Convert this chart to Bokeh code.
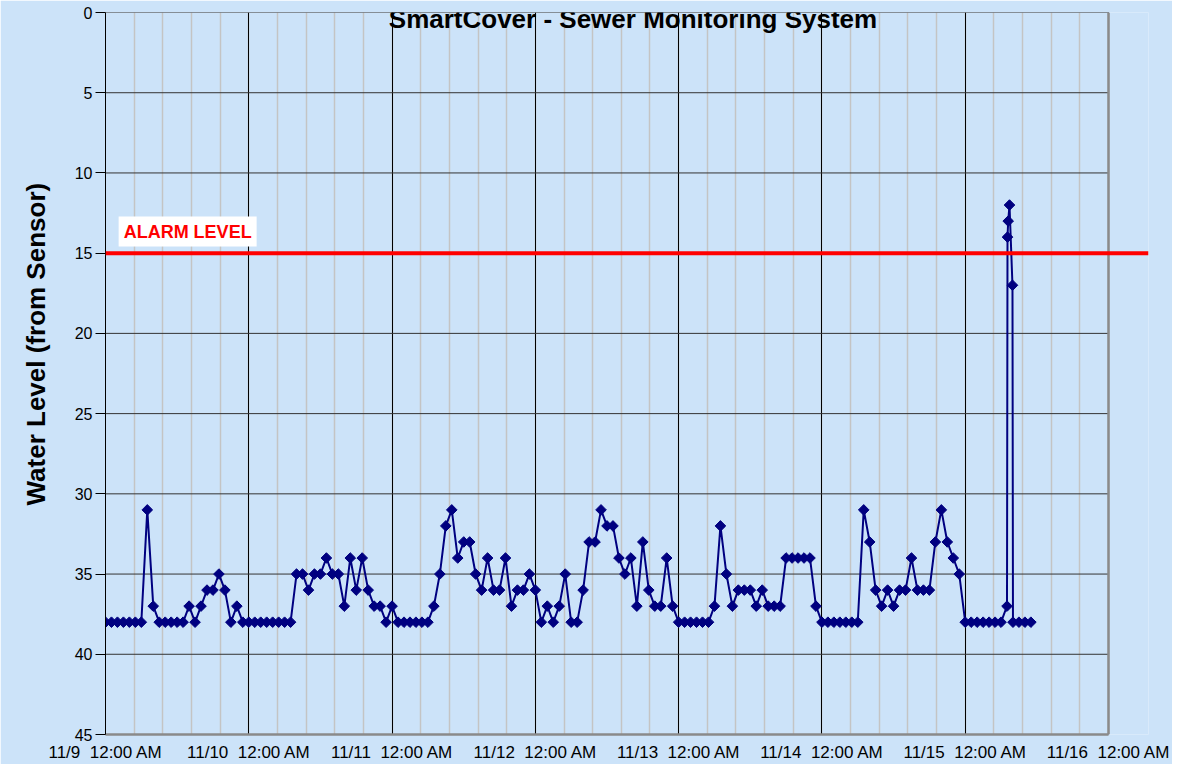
import math
import pandas as pd
from bokeh.plotting import figure
from bokeh.models import Range1d, FixedTicker, Span, Label, Title, ColumnDataSource
from bokeh.embed import file_html
from bokeh.resources import INLINE

# ---------------- data ----------------
title_text = "SmartCover - Sewer Monitoring System"
y_title = "Water Level (from Sensor)"
alarm_text = "ALARM LEVEL"
alarm_level = 15

start_time = "2008-11-09 00:00"
# hourly sensor readings starting 11/9 12:00 AM
hourly_levels = [
    38, 38, 38, 38, 38, 38, 38, 31, 37, 38, 38, 38, 38, 38, 37, 38, 37, 36, 36, 35, 36, 38, 37, 38,
    38, 38, 38, 38, 38, 38, 38, 38, 35, 35, 36, 35, 35, 34, 35, 35, 37, 34, 36, 34, 36, 37, 37, 38,
    37, 38, 38, 38, 38, 38, 38, 37, 35, 32, 31, 34, 33, 33, 35, 36, 34, 36, 36, 34, 37, 36, 36, 35,
    36, 38, 37, 38, 37, 35, 38, 38, 36, 33, 33, 31, 32, 32, 34, 35, 34, 37, 33, 36, 37, 37, 34, 37,
    38, 38, 38, 38, 38, 38, 37, 32, 35, 37, 36, 36, 36, 37, 36, 37, 37, 37, 34, 34, 34, 34, 34, 37,
    38, 38, 38, 38, 38, 38, 38, 31, 33, 36, 37, 36, 37, 36, 36, 34, 36, 36, 36, 33, 31, 33, 34, 35,
    38, 38, 38, 38, 38, 38, 38, 37,
]
# alarm event readings on 11/15
event_times = ["2008-11-15 07:05", "2008-11-15 07:12", "2008-11-15 07:25", "2008-11-15 07:55",
               "2008-11-15 08:00", "2008-11-15 09:00", "2008-11-15 10:00", "2008-11-15 11:00"]
event_levels = [14, 13, 12, 17, 38, 38, 38, 38]

day_ticks = ["2008-11-09", "2008-11-10", "2008-11-11", "2008-11-12",
             "2008-11-13", "2008-11-14", "2008-11-15", "2008-11-16"]
day_labels = ["11/9", "11/10", "11/11", "11/12", "11/13", "11/14", "11/15", "11/16"]
time_label = "12:00 AM"
y_ticks = [0, 5, 10, 15, 20, 25, 30, 35, 40, 45]

# ---------------- build ----------------
def ms(t):
    return int(pd.Timestamp(t).value // 10**6)

hourly_times = list(pd.date_range(start_time, periods=len(hourly_levels), freq="h"))
times = [ms(t) for t in hourly_times] + [ms(t) for t in event_times]
levels = hourly_levels + event_levels
src = ColumnDataSource(dict(t=times, v=levels))

day_ms = [ms(d) for d in day_ticks]
hour = 3600 * 1000
x_start = day_ms[0]
x_last = day_ms[-1]
x_end = x_last + int(6.7 * hour)
minor_ms = [x_start + int(k * 4.8 * hour) for k in range(0, 36)]
y_top, y_bottom = y_ticks[0], y_ticks[-1]

bg = "#cce3f9"
FONT = "Liberation Sans"

p = figure(width=1172, height=764, x_axis_type="datetime",
           x_range=Range1d(x_start, x_end), y_range=Range1d(y_bottom, y_top),
           output_backend="svg", toolbar_location=None,
           min_border_left=105, min_border_right=24, min_border_top=12, min_border_bottom=30)
p.background_fill_color = bg
p.border_fill_color = bg
p.outline_line_color = None

# x axis
xa = p.xaxis[0]
xa.ticker = FixedTicker(ticks=day_ms, minor_ticks=minor_ms)
xa.major_label_overrides = {d: lab + "\u00a0\u00a0" + time_label for d, lab in zip(day_ms, day_labels)}
xa.major_tick_out = 0
xa.major_tick_in = 0
xa.minor_tick_out = 0
xa.minor_tick_in = 0
xa.major_label_standoff = 8
xa.major_label_text_font = FONT
xa.major_label_text_font_size = "17px"
xa.major_label_text_color = "black"
xa.axis_line_color = "#8a8a8a"
xa.axis_line_width = 2.5
xa.bounds = (x_start, x_last)

# y axis
ya = p.yaxis[0]
ya.ticker = FixedTicker(ticks=y_ticks)
ya.major_tick_out = 10
ya.major_tick_in = 0
ya.minor_tick_out = 0
ya.minor_tick_in = 0
ya.major_label_standoff = 3
ya.major_label_text_font = FONT
ya.major_label_text_font_size = "16px"
ya.major_label_text_color = "black"
ya.axis_line_color = "black"
ya.major_tick_line_color = "black"

# y title, placed on the left and raised like the original
p.add_layout(Title(text=y_title, align="left", offset=229, standoff=38, vertical_align="top",
                   text_font=FONT, text_font_size="26px", text_font_style="bold",
                   text_color="black"), "left")

# grids
p.ygrid.grid_line_color = None
p.xgrid.grid_line_color = "black"
p.xgrid.grid_line_width = 1
p.xgrid.minor_grid_line_color = "#c4c4c4"
p.xgrid.minor_grid_line_width = 1.5

p.segment(x0=[x_start] * len(y_ticks[:-1]), x1=[x_last] * len(y_ticks[:-1]),
          y0=y_ticks[:-1], y1=y_ticks[:-1], line_color="#333333", line_width=1)
p.add_layout(Span(location=x_last, dimension="height", line_color="#8a8a8a", line_width=2.5))

# data
p.line("t", "v", source=src, line_color="#000080", line_width=2)
p.scatter("t", "v", source=src, marker="square", angle=math.pi / 4, size=7.5,
          fill_color="#000080", line_color="#000080")

# alarm
p.add_layout(Span(location=alarm_level, dimension="width", line_color="#ff0000", line_width=4))
p.add_layout(Label(x=x_start + int(2.2 * hour), y=13.65, text=alarm_text,
                   text_align="left", text_baseline="middle",
                   text_font=FONT, text_font_size="18px", text_font_style="bold",
                   text_color="#ff0000", background_fill_color="white", padding=5))

# chart title, kept at the top edge of the plot
p.add_layout(Label(x=x_start + int(88.35 * hour), y=y_top, y_offset=-6, text=title_text,
                   text_align="center", text_baseline="alphabetic",
                   text_font=FONT, text_font_size="26px", text_font_style="bold",
                   text_color="black"))

open("out.html", "w").write(file_html(p, INLINE))
